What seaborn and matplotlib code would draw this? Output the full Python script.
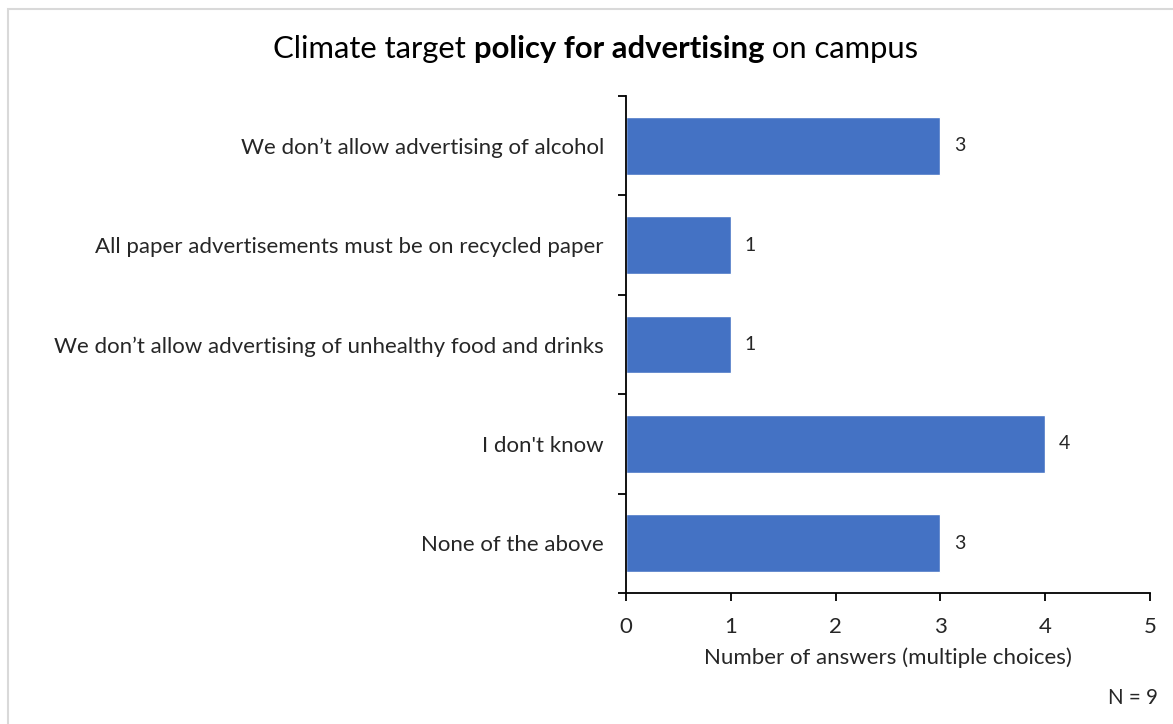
import matplotlib
matplotlib.use("Agg")
import matplotlib.pyplot as plt
from matplotlib.patches import Rectangle
from matplotlib.ticker import FixedLocator
import seaborn as sns
import pandas as pd

categories = [
    "We don\u2019t allow advertising of alcohol",
    "All paper advertisements must be on recycled paper",
    "We don\u2019t allow advertising of unhealthy food and drinks",
    "I don't know",
    "None of the above",
]
answers = [3, 1, 1, 4, 3]
x_ticks = [0, 1, 2, 3, 4, 5]
title_parts = [("Climate target ", "normal"), ("policy for advertising", "bold"), (" on campus", "normal")]
x_label = "Number of answers (multiple choices)"
sample_note = "N = 9"

sns.set_theme(style="white")
plt.rcParams["font.family"] = ["Lato", "DejaVu Sans"]
text_color = "#262626"
bar_color = "#4472C4"

df = pd.DataFrame({"category": categories, "answers": answers})

fig = plt.figure(figsize=(11.73, 7.24), dpi=100)
fig.patch.set_facecolor("white")
# light frame around the chart area
fig.add_artist(Rectangle((8 / 1173, -0.05), 1.2, 1 - 9 / 724 + 0.05, transform=fig.transFigure,
                         fill=False, edgecolor="#D9D9D9", linewidth=1.5))

ax = fig.add_axes([626 / 1173, 1 - 593 / 724, (1150 - 626) / 1173, (593 - 96) / 724])
sns.barplot(data=df, y="category", x="answers", orient="h", color=bar_color,
            width=0.58, ax=ax, saturation=1)

ax.set_xlim(0, 5)
ax.set_ylim(len(categories) - 0.5, -0.5)
ax.xaxis.set_major_locator(FixedLocator(x_ticks))
ax.set_xticklabels([str(t) for t in x_ticks])

# category separators as outward tick marks on the left spine
ax.yaxis.set_minor_locator(FixedLocator([i - 0.5 for i in range(len(categories) + 1)]))
ax.tick_params(axis="y", which="major", length=0, pad=16, labelsize=16, labelcolor=text_color)
ax.tick_params(axis="y", which="minor", length=6, width=1.3, color="black", direction="out", left=True)
ax.tick_params(axis="x", which="major", length=6, width=1.3, color="black", direction="out",
               bottom=True, pad=11, labelsize=16, labelcolor=text_color)

for side in ["top", "right"]:
    ax.spines[side].set_visible(False)
for side in ["left", "bottom"]:
    ax.spines[side].set_color("black")
    ax.spines[side].set_linewidth(1.3)

ax.set_ylabel("")
ax.set_xlabel(x_label, fontsize=16, color=text_color, labelpad=8)

for i, v in enumerate(answers):
    ax.annotate(str(v), xy=(v, i), xytext=(10, 0), textcoords="offset points",
                ha="left", va="center", fontsize=14, color=text_color)

fig.text(1158 / 1173, 1 - 698 / 724, sample_note, ha="right", va="center",
         fontsize=14.8, color=text_color)

# title with a bold middle segment, laid out piece by piece
fig.canvas.draw()
renderer = fig.canvas.get_renderer()
pieces = []
total = 0
for txt, weight in title_parts:
    t = fig.text(0, 1 - 49 / 724, txt, fontsize=22.3, fontweight=weight, color="black",
                 va="center", ha="left")
    w = t.get_window_extent(renderer).width
    pieces.append((t, w))
    total += w
x0 = 596 - total / 2
for t, w in pieces:
    t.set_x(x0 / 1173)
    x0 += w

fig.savefig("out.png", dpi=100, facecolor="white")
